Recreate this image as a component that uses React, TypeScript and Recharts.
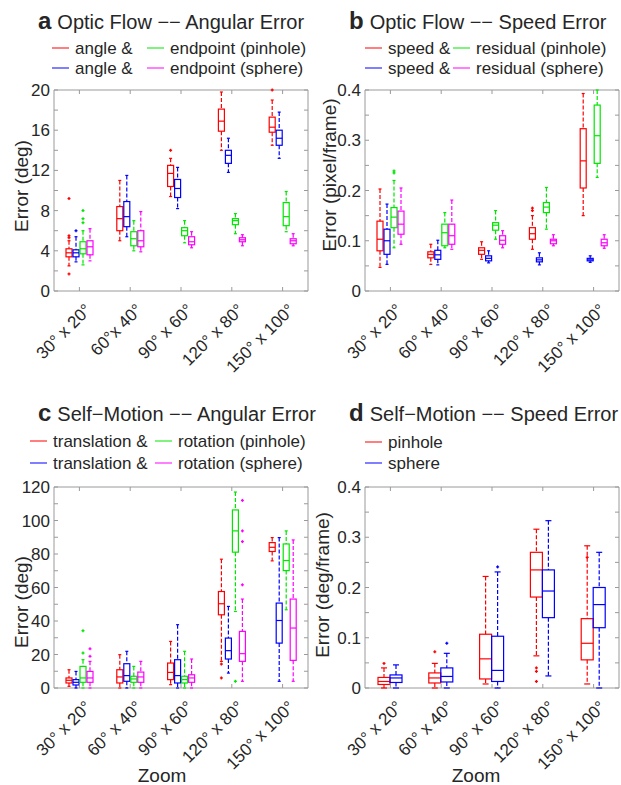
import { ComposedChart, Bar, XAxis, YAxis, ReferenceArea } from 'recharts';

type Stat = [number, number, number, number, number]; // min, q1, median, q3, max

const FONT = '"Liberation Sans", Arial, Helvetica, sans-serif';
const INK = '#262626';
const FRAME = '#9a9a9a';
const RED = '#ff0000';
const BLUE = '#0000ff';
const GREEN = '#00e600';
const MAGENTA = '#ff00ff';

// chart geometry shared by the four panels (panel-local px)
const CW = 310;
const CH = 380;
const PL = 54;
const PT = 90;
const PW = 254;
const PH = 201;
const TM = 4;

const zooms = ['30° x 20°', '60° x 40°', '90° x 60°', '120° x 80°', '150° x 100°'];
const zoomsA = ['30° x 20°', '60°x 40°', '90° x 60°', '120° x 80°', '150° x 100°'];

// a: optic flow, angular error (deg)
const aAngleRed: Stat[] = [[2.5, 3.4, 3.8, 4.2, 5.0], [5.0, 6.0, 7.2, 8.4, 11.0], [9.4, 10.4, 11.7, 12.5, 13.2], [14.0, 15.9, 16.9, 18.1, 19.8], [14.5, 15.8, 16.3, 17.3, 19.0]];
const aAngleRedOut = [[5.5, 5.3, 9.2, 1.7], [], [14.0], [], [20.0]];
const aAngleBlue: Stat[] = [[2.9, 3.4, 3.8, 4.1, 5.4], [5.4, 6.4, 7.4, 8.9, 11.5], [8.2, 9.3, 10.2, 11.1, 12.3], [11.8, 12.7, 13.5, 14.0, 15.2], [13.2, 14.5, 15.2, 16.0, 17.8]];
const aAngleBlueOut = [[6.0], [], [], [], []];
const aEndPinhole: Stat[] = [[2.6, 3.7, 4.2, 4.9, 6.0], [4.0, 4.5, 5.2, 5.9, 7.0], [4.8, 5.5, 6.0, 6.3, 7.0], [5.7, 6.6, 7.0, 7.2, 7.7], [5.9, 6.5, 7.4, 8.8, 9.9]];
const aEndPinholeOut = [[8.0, 7.2, 6.8], [], [], [], []];
const aEndSphere: Stat[] = [[3.0, 3.6, 4.4, 5.0, 6.2], [3.9, 4.4, 5.0, 6.0, 7.9], [4.3, 4.6, 4.9, 5.4, 5.9], [4.5, 4.9, 5.1, 5.3, 5.6], [4.5, 4.7, 5.0, 5.2, 5.7]];
const aEndSphereOut = [[], [], [], [], []];
const aTicks = [0, 2, 4, 6, 8, 10, 12, 14, 16, 18, 20];

// b: optic flow, speed error (pixel/frame)
const bSpeedRed: Stat[] = [[0.047, 0.08, 0.103, 0.139, 0.203], [0.053, 0.066, 0.073, 0.078, 0.093], [0.063, 0.073, 0.081, 0.086, 0.098], [0.083, 0.103, 0.114, 0.126, 0.15], [0.15, 0.205, 0.259, 0.323, 0.393]];
const bSpeedRedOut = [[], [], [], [0.16, 0.165], []];
const bSpeedBlue: Stat[] = [[0.053, 0.073, 0.1, 0.123, 0.173], [0.052, 0.063, 0.072, 0.081, 0.101], [0.056, 0.06, 0.065, 0.07, 0.08], [0.052, 0.058, 0.062, 0.066, 0.076], [0.057, 0.06, 0.062, 0.065, 0.07]];
const bSpeedBlueOut = [[], [], [], [], []];
const bResPinhole: Stat[] = [[0.086, 0.126, 0.147, 0.166, 0.22], [0.086, 0.09, 0.116, 0.133, 0.156], [0.103, 0.121, 0.131, 0.136, 0.16], [0.123, 0.156, 0.167, 0.176, 0.206], [0.226, 0.254, 0.309, 0.37, 0.4]];
const bResPinholeOut = [[0.235, 0.239], [], [], [], []];
const bResSphere: Stat[] = [[0.093, 0.113, 0.133, 0.159, 0.205], [0.083, 0.093, 0.11, 0.133, 0.181], [0.086, 0.093, 0.101, 0.11, 0.12], [0.09, 0.094, 0.1, 0.103, 0.112], [0.085, 0.09, 0.096, 0.103, 0.112]];
const bResSphereOut = [[], [], [], [], []];
const bTicks = [0, 0.05, 0.1, 0.15, 0.2, 0.25, 0.3, 0.35, 0.4];

// c: self-motion, angular error (deg)
const cTransRed: Stat[] = [[1.0, 3.0, 4.6, 6.0, 10.9], [0, 3.0, 6.6, 10.9, 19.9], [2.0, 5.0, 9.3, 14.9, 27.8], [15.9, 43.7, 50.3, 57.6, 76.9], [75.9, 81.5, 84.0, 86.8, 89.8]];
const cTransRedOut = [[], [], [], [14.3, 6.0], []];
const cTransBlue: Stat[] = [[0, 1.8, 3.4, 5.0, 9.9], [0, 4.0, 7.4, 14.5, 21.9], [0, 3.0, 7.4, 16.9, 37.8], [8.9, 17.3, 22.3, 29.8, 48.7], [4.0, 26.8, 40.3, 50.7, 89.8]];
const cTransBlueOut = [[], [], [], [], []];
const cRotPinhole: Stat[] = [[0, 3.4, 6.0, 12.9, 16.9], [0, 3.4, 5.4, 7.0, 12.9], [0, 3.0, 5.0, 7.0, 21.9], [45.7, 81.1, 93.8, 106.3, 117], [46.7, 70.1, 76.1, 86.0, 93.8]];
const cRotPinholeOut = [[34.2, 20.9], [], [], [4.0], []];
const cRotSphere: Stat[] = [[0, 3.4, 6.0, 9.9, 15.9], [0, 3.4, 6.6, 9.5, 15.9], [0, 3.4, 6.0, 7.9, 17.3], [4.0, 15.9, 20.5, 33.8, 53.1], [4.0, 16.5, 35.8, 53.1, 88.4]];
const cRotSphereOut = [[23.4, 18.9], [], [], [112, 93.8, 87.4, 61.6], []];
const cTicks = [0, 10, 20, 30, 40, 50, 60, 70, 80, 90, 100, 110, 120];

// d: self-motion, speed error (deg/frame)
const dPinhole: Stat[] = [[0, 0.007, 0.013, 0.021, 0.04], [0, 0.01, 0.02, 0.03, 0.049], [0.008, 0.018, 0.058, 0.107, 0.222], [0.064, 0.181, 0.235, 0.27, 0.316], [0.008, 0.056, 0.089, 0.138, 0.283]];
const dPinholeOut = [[0.049], [0.072], [], [0.04, 0.033, 0.013], [0.26]];
const dSphere: Stat[] = [[0, 0.011, 0.02, 0.026, 0.046], [0, 0.012, 0.023, 0.04, 0.069], [0, 0.013, 0.035, 0.103, 0.231], [0.024, 0.14, 0.193, 0.235, 0.333], [0, 0.12, 0.166, 0.2, 0.27]];
const dSphereOut = [[], [0.089], [0.241], [], []];

interface Series {
  name: string;
  color: string;
  stats: Stat[];
  outliers: number[][];
}

function BoxShape(props: any) {
  const { x, y, width, height, stat, out, color } = props;
  if (!stat) return null;
  const [lo, q1, med, q3, hi] = stat as Stat;
  const py = (v: number) => y + (height * (hi - v)) / (hi - lo);
  const cx = x + width / 2;
  const cap = Math.max(1.5, width * 0.25);
  const sw = 1.2;
  return (
    <g>
      <line x1={cx} x2={cx} y1={py(hi)} y2={py(q3)} stroke={color} strokeWidth={sw} strokeDasharray="4 2" />
      <line x1={cx} x2={cx} y1={py(q1)} y2={py(lo)} stroke={color} strokeWidth={sw} strokeDasharray="4 2" />
      <line x1={cx - cap} x2={cx + cap} y1={py(hi)} y2={py(hi)} stroke={color} strokeWidth={sw} />
      <line x1={cx - cap} x2={cx + cap} y1={py(lo)} y2={py(lo)} stroke={color} strokeWidth={sw} />
      <rect x={x} y={py(q3)} width={width} height={Math.max(0.5, py(q1) - py(q3))} fill="none" stroke={color} strokeWidth={sw} />
      <line x1={x} x2={x + width} y1={py(med)} y2={py(med)} stroke={color} strokeWidth={sw} />
      {(out as number[]).map((v, i) => (
        <g key={i}>
          <line x1={cx - 1.5} x2={cx + 1.5} y1={py(v)} y2={py(v)} stroke={color} strokeWidth={1.3} />
          <line x1={cx} x2={cx} y1={py(v) - 1.5} y2={py(v) + 1.5} stroke={color} strokeWidth={1.3} />
        </g>
      ))}
    </g>
  );
}

function YTick(props: any) {
  const { x, y, payload, isMajor, fmt } = props;
  const ax = x + TM;
  const v = payload.value as number;
  return (
    <g>
      <line x1={ax} x2={ax + 4} y1={y} y2={y} stroke={FRAME} />
      <line x1={ax + PW} x2={ax + PW - 4} y1={y} y2={y} stroke={FRAME} />
      {isMajor(v) && (
        <text x={x} y={y} dy={6} textAnchor="end" fontSize={17} fill={INK} fontFamily={FONT}>
          {fmt(v)}
        </text>
      )}
    </g>
  );
}

function XTick(props: any) {
  const { x, y, payload } = props;
  const base = y - TM;
  const tx = x + 13;
  const ty = base + 20;
  return (
    <g>
      <line x1={x} x2={x} y1={base} y2={base - 4} stroke={FRAME} />
      <line x1={x} x2={x} y1={base - PH} y2={base - PH + 4} stroke={FRAME} />
      <text x={tx} y={ty} transform={`rotate(-45 ${tx} ${ty})`} textAnchor="end" fontSize={17} fill={INK} fontFamily={FONT}>
        {payload.value}
      </text>
    </g>
  );
}

interface PanelProps {
  x0: number;
  y0: number;
  letter: string;
  title: string;
  titleY: number;
  legendY: number[];
  legendX: number[];
  series: Series[];
  cats: string[];
  domain: [number, number];
  ticks: number[];
  isMajor: (v: number) => boolean;
  fmt: (v: number) => string;
  yLabel: string;
  yLabelX: number;
  yLabelY: number;
  xLabel?: string;
  xLabelX?: number;
  barSize: number;
  barGap: number;
}

function Panel(p: PanelProps) {
  const rows = p.cats.map((c, i) => {
    const row: any = { zoom: c };
    p.series.forEach((s, j) => {
      row['s' + j] = s.stats[i];
      row['o' + j] = s.outliers[i];
    });
    return row;
  });
  // legend: first column holds series 0,1 ; second column series 2,3
  const legendItems = p.series.map((s, j) => ({ s, col: Math.floor(j / 2), row: j % 2 }));
  return (
    <div style={{ position: 'absolute', left: p.x0, top: p.y0, width: CW, height: 395 }}>
      <div style={{ position: 'absolute', left: 38, top: p.titleY, transform: 'translateY(-50%)', whiteSpace: 'nowrap', color: INK, lineHeight: 1 }}>
        <span style={{ fontWeight: 'bold', fontSize: 24 }}>{p.letter}</span>
        <span style={{ fontSize: 20, marginLeft: 6 }}>{p.title}</span>
      </div>
      {legendItems.map(({ s, col, row }, k) => (
        <div key={k} style={{ position: 'absolute', left: p.legendX[col], top: p.legendY[row], transform: 'translateY(-50%)', display: 'flex', alignItems: 'center', whiteSpace: 'nowrap', fontSize: 17, color: INK, lineHeight: 1 }}>
          <span style={{ display: 'inline-block', width: 17, borderTop: `1.5px solid ${s.color}`, marginRight: 6 }} />
          <span>{s.name}</span>
        </div>
      ))}
      <div style={{ position: 'absolute', left: p.yLabelX, top: p.yLabelY, transform: 'translate(-50%, -50%) rotate(-90deg)', whiteSpace: 'nowrap', fontSize: 19, color: INK, lineHeight: 1 }}>
        {p.yLabel}
      </div>
      {p.xLabel && (
        <div style={{ position: 'absolute', left: p.xLabelX, top: 378, transform: 'translate(-50%, -50%)', whiteSpace: 'nowrap', fontSize: 19, color: INK, lineHeight: 1 }}>
          {p.xLabel}
        </div>
      )}
      <div style={{ position: 'absolute', left: 0, top: 0 }}>
        <ComposedChart
          width={CW}
          height={CH}
          data={rows}
          barGap={p.barGap}
          barSize={p.barSize}
          margin={{ top: PT, left: PL - 40, right: CW - PL - PW, bottom: CH - PT - PH - 60 }}
        >
          <XAxis dataKey="zoom" height={60} interval={0} tickSize={0} tickMargin={TM} axisLine={false} tickLine={false} tick={<XTick />} />
          <YAxis
            type="number"
            width={40}
            domain={p.domain}
            ticks={p.ticks}
            interval={0}
            tickSize={0}
            tickMargin={TM}
            axisLine={false}
            tickLine={false}
            tick={<YTick isMajor={p.isMajor} fmt={p.fmt} />}
          />
          <ReferenceArea y1={p.domain[0]} y2={p.domain[1]} fill="none" stroke={FRAME} strokeWidth={1} ifOverflow="visible" />
          {p.series.map((s, j) => (
            <Bar
              key={j}
              name={s.name}
              dataKey={(d: any) => [d['s' + j][0], d['s' + j][4]]}
              fill={s.color}
              isAnimationActive={false}
              shape={(bp: any) => <BoxShape {...bp} stat={bp.payload['s' + j]} out={bp.payload['o' + j]} color={s.color} />}
            />
          ))}
        </ComposedChart>
      </div>
    </div>
  );
}

const near = (v: number, step: number) => Math.abs(v / step - Math.round(v / step)) < 1e-6;
const fmtDec = (v: number) => (v === 0 ? '0' : v.toFixed(1));
const fmtInt = (v: number) => String(v);

export default function App() {
  return (
    <div style={{ position: 'absolute', left: 0, top: 0, width: 621, height: 785, background: '#fff', overflow: 'hidden', fontFamily: FONT }}>
      <Panel
        x0={0}
        y0={0}
        letter="a"
        title="Optic Flow −− Angular Error"
        titleY={21}
        legendY={[48, 68]}
        legendX={[52, 147]}
        series={[
          { name: 'angle &', color: RED, stats: aAngleRed, outliers: aAngleRedOut },
          { name: 'angle &', color: BLUE, stats: aAngleBlue, outliers: aAngleBlueOut },
          { name: 'endpoint (pinhole)', color: GREEN, stats: aEndPinhole, outliers: aEndPinholeOut },
          { name: 'endpoint (sphere)', color: MAGENTA, stats: aEndSphere, outliers: aEndSphereOut },
        ]}
        cats={zoomsA}
        domain={[0, 20]}
        ticks={aTicks}
        isMajor={(v) => near(v, 4)}
        fmt={fmtInt}
        yLabel="Error (deg)"
        yLabelX={21}
        yLabelY={186}
        barSize={6}
        barGap={1}
      />
      <Panel
        x0={311}
        y0={0}
        letter="b"
        title="Optic Flow −− Speed Error"
        titleY={21}
        legendY={[48, 68]}
        legendX={[54, 142]}
        series={[
          { name: 'speed &', color: RED, stats: bSpeedRed, outliers: bSpeedRedOut },
          { name: 'speed &', color: BLUE, stats: bSpeedBlue, outliers: bSpeedBlueOut },
          { name: 'residual (pinhole)', color: GREEN, stats: bResPinhole, outliers: bResPinholeOut },
          { name: 'residual (sphere)', color: MAGENTA, stats: bResSphere, outliers: bResSphereOut },
        ]}
        cats={zooms}
        domain={[0, 0.4]}
        ticks={bTicks}
        isMajor={(v) => near(v, 0.1)}
        fmt={fmtDec}
        yLabel="Error (pixel/frame)"
        yLabelX={18}
        yLabelY={175}
        barSize={6}
        barGap={1}
      />
      <Panel
        x0={0}
        y0={397}
        letter="c"
        title="Self−Motion −− Angular Error"
        titleY={16}
        legendY={[44, 66]}
        legendX={[30, 155]}
        series={[
          { name: 'translation &', color: RED, stats: cTransRed, outliers: cTransRedOut },
          { name: 'translation &', color: BLUE, stats: cTransBlue, outliers: cTransBlueOut },
          { name: 'rotation (pinhole)', color: GREEN, stats: cRotPinhole, outliers: cRotPinholeOut },
          { name: 'rotation (sphere)', color: MAGENTA, stats: cRotSphere, outliers: cRotSphereOut },
        ]}
        cats={zooms}
        domain={[0, 120]}
        ticks={cTicks}
        isMajor={(v) => near(v, 20)}
        fmt={fmtInt}
        yLabel="Error (deg)"
        yLabelX={21}
        yLabelY={205}
        xLabel="Zoom"
        xLabelX={162}
        barSize={6}
        barGap={1}
      />
      <Panel
        x0={311}
        y0={397}
        letter="d"
        title="Self−Motion −− Speed Error"
        titleY={16}
        legendY={[45, 66]}
        legendX={[54]}
        series={[
          { name: 'pinhole', color: RED, stats: dPinhole, outliers: dPinholeOut },
          { name: 'sphere', color: BLUE, stats: dSphere, outliers: dSphereOut },
        ]}
        cats={zooms}
        domain={[0, 0.4]}
        ticks={bTicks}
        isMajor={(v) => near(v, 0.1)}
        fmt={fmtDec}
        yLabel="Error (deg/frame)"
        yLabelX={11}
        yLabelY={188}
        xLabel="Zoom"
        xLabelX={165}
        barSize={12}
        barGap={0}
      />
    </div>
  );
}
